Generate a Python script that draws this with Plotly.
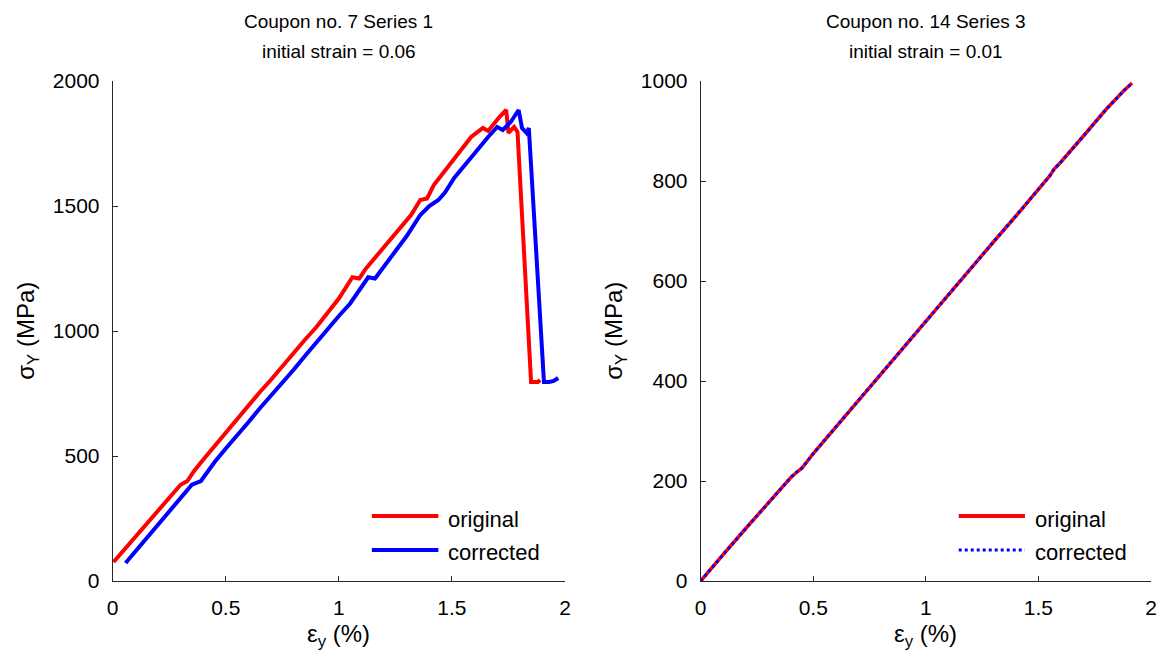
import plotly.graph_objects as go

# ---- Coupon no. 7, Series 1 (initial strain = 0.06) ----
c7_orig_strain = [0.004, 0.05, 0.10, 0.15, 0.20, 0.25, 0.30, 0.33, 0.36, 0.40, 0.45,
                  0.50, 0.55, 0.60, 0.65, 0.70, 0.75, 0.80, 0.85, 0.90, 0.95, 1.00,
                  1.06, 1.09, 1.12, 1.17, 1.22, 1.27, 1.32, 1.36, 1.39, 1.42, 1.46,
                  1.51, 1.55, 1.585, 1.637, 1.66, 1.71, 1.74, 1.75, 1.775, 1.79,
                  1.85, 1.88, 1.89]
c7_orig_stress = [76, 125, 175, 230, 280, 335, 385, 400, 440, 485, 540,
                  595, 645, 700, 755, 805, 860, 910, 965, 1015, 1070, 1130,
                  1215, 1210, 1250, 1305, 1360, 1410, 1465, 1524, 1530, 1584, 1630,
                  1692, 1735, 1776, 1812, 1800, 1856, 1884, 1792, 1816, 1796,
                  796, 796, 804]

c7_corr_strain = [0.057, 0.10, 0.15, 0.20, 0.25, 0.30, 0.35, 0.39, 0.42, 0.45, 0.50,
                  0.55, 0.60, 0.65, 0.70, 0.75, 0.80, 0.85, 0.90, 0.95, 1.00, 1.05,
                  1.10, 1.13, 1.16, 1.20, 1.25, 1.30, 1.36, 1.40, 1.44, 1.47, 1.51,
                  1.585, 1.66, 1.70, 1.725, 1.76, 1.795, 1.81, 1.83, 1.84, 1.907,
                  1.93, 1.95, 1.97]
c7_corr_stress = [72, 118, 170, 225, 275, 330, 385, 400, 440, 475, 530,
                  580, 635, 690, 740, 795, 845, 900, 955, 1005, 1060, 1110,
                  1175, 1215, 1210, 1260, 1320, 1380, 1464, 1500, 1524, 1555, 1612,
                  1696, 1776, 1816, 1804, 1836, 1884, 1812, 1792, 1812, 796,
                  796, 800, 812]

# ---- Coupon no. 14, Series 3 (initial strain = 0.01) ----
c14_strain = [0.0, 0.05, 0.10, 0.20, 0.30, 0.40, 0.43, 0.45, 0.50, 0.60, 0.70,
              0.80, 0.90, 1.00, 1.10, 1.20, 1.30, 1.40, 1.50, 1.55, 1.57, 1.60,
              1.70, 1.80, 1.88, 1.916]
c14_orig_stress = [0, 27, 53, 105, 157, 207, 219, 226, 255, 308, 362,
                   415, 468, 520, 573, 625, 678, 730, 782, 810, 824, 838,
                   890, 943, 981, 996]
c14_corr_stress = [0, 27, 53, 105, 157, 207, 219, 226, 255, 308, 362,
                   415, 468, 520, 573, 625, 678, 730, 782, 810, 824, 838,
                   890, 943, 981, 996]

x_ticks = [0, 0.5, 1, 1.5, 2]
x_tick_text = ["0", "0.5", "1", "1.5", "2"]
y1_ticks = [0, 500, 1000, 1500, 2000]
y2_ticks = [0, 200, 400, 600, 800, 1000]

RED = "#ff0000"
BLUE = "#0000ff"
AXIS = "#262626"
FONT = "Liberation Sans, Arial, sans-serif"

W, H = 1163, 661
left_dom = [112.7 / W, 565 / W]
right_dom = [700.7 / W, 1151 / W]
y_dom = [(H - 581) / H, (H - 81) / H]

fig = go.Figure()

fig.add_trace(go.Scatter(x=c7_orig_strain, y=c7_orig_stress, mode="lines",
                         line=dict(color=RED, width=4), xaxis="x", yaxis="y",
                         name="original", showlegend=False))
fig.add_trace(go.Scatter(x=c7_corr_strain, y=c7_corr_stress, mode="lines",
                         line=dict(color=BLUE, width=4), xaxis="x", yaxis="y",
                         name="corrected", showlegend=False))
fig.add_trace(go.Scatter(x=c14_strain, y=c14_orig_stress, mode="lines",
                         line=dict(color=RED, width=3.5), xaxis="x2", yaxis="y2",
                         name="original", showlegend=False))
fig.add_trace(go.Scatter(x=c14_strain, y=c14_corr_stress, mode="lines",
                         line=dict(color=BLUE, width=3, dash="dot"), xaxis="x2", yaxis="y2",
                         name="corrected", showlegend=False))

axis_common = dict(showline=True, linecolor=AXIS, linewidth=1, ticks="inside",
                   ticklen=5, tickcolor=AXIS, showgrid=False, zeroline=False,
                   automargin=False,
                   tickfont=dict(family=FONT, size=21, color="#000000"))

fig.update_layout(
    width=W, height=H,
    margin=dict(l=0, r=0, t=0, b=0, pad=0, autoexpand=False),
    paper_bgcolor="white", plot_bgcolor="white",
    showlegend=False,
    xaxis=dict(domain=left_dom, range=[0, 2], tickvals=x_ticks, ticktext=x_tick_text,
               anchor="y", ticklabelstandoff=8, **axis_common),
    yaxis=dict(domain=y_dom, range=[0, 2000], tickvals=y1_ticks, anchor="x",
               ticklabelstandoff=8, **axis_common),
    xaxis2=dict(domain=right_dom, range=[0, 2], tickvals=x_ticks, ticktext=x_tick_text,
                anchor="y2", ticklabelstandoff=8, **axis_common),
    yaxis2=dict(domain=y_dom, range=[0, 1000], tickvals=y2_ticks, anchor="x2",
                ticklabelstandoff=8, **axis_common),
)

title_font = dict(family=FONT, size=19, color="#000000")
legend_font = dict(family=FONT, size=22, color="#000000")
label_font = dict(family=FONT, size=24, color="#000000")

panels = [
    ("x", "y", "Coupon no. 7 Series 1", "initial strain = 0.06", left_dom, "solid"),
    ("x2", "y2", "Coupon no. 14 Series 3", "initial strain = 0.01", right_dom, "dot"),
]

for xa, ya, title1, title2, dom, blue_dash in panels:
    cx = (dom[0] + dom[1]) / 2
    # two-line panel title
    fig.add_annotation(x=cx, y=1 - 22 / H, xref="paper", yref="paper", text=title1,
                       showarrow=False, font=title_font, xanchor="center", yanchor="middle")
    fig.add_annotation(x=cx, y=1 - 52 / H, xref="paper", yref="paper", text=title2,
                       showarrow=False, font=title_font, xanchor="center", yanchor="middle")
    # axis titles
    fig.add_annotation(x=cx, y=1 - 635 / H, xref="paper", yref="paper",
                       text="ε<sub>y</sub> (%)", showarrow=False, font=label_font,
                       xanchor="center", yanchor="middle")
    fig.add_annotation(x=dom[0] - 86 / W, y=(y_dom[0] + y_dom[1]) / 2, xref="paper", yref="paper",
                       text="σ<sub>Y</sub> (MPa)", showarrow=False, textangle=-90,
                       font=label_font, xanchor="center", yanchor="middle")
    # legend drawn inside the lower-right corner
    xd, yd = f"{xa} domain", f"{ya} domain"
    fig.add_shape(type="line", xref=xd, yref=yd, x0=0.573, x1=0.72, y0=0.13, y1=0.13,
                  line=dict(color=RED, width=4))
    fig.add_shape(type="line", xref=xd, yref=yd, x0=0.573, x1=0.72, y0=0.062, y1=0.062,
                  line=dict(color=BLUE, width=4 if blue_dash == "solid" else 3,
                            dash=blue_dash))
    fig.add_annotation(x=0.737, y=0.124, xref=xd, yref=yd, text="original",
                       showarrow=False, font=legend_font, xanchor="left", yanchor="middle")
    fig.add_annotation(x=0.737, y=0.058, xref=xd, yref=yd, text="corrected",
                       showarrow=False, font=legend_font, xanchor="left", yanchor="middle")

fig.write_html("out.html")
